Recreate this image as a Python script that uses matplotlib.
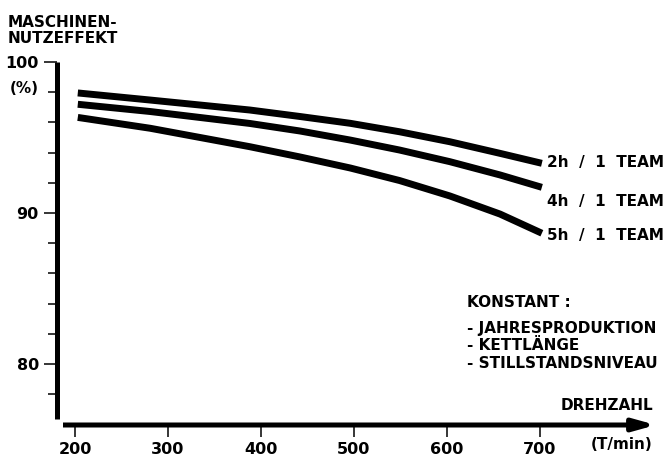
import matplotlib
matplotlib.use("Agg")
import matplotlib.pyplot as plt

# ---- data ----
drehzahl = [203, 281, 388, 442, 496, 549, 603, 657, 702]
nutz_2h = [97.95, 97.48, 96.82, 96.39, 95.94, 95.38, 94.72, 93.95, 93.29]
nutz_4h = [97.20, 96.72, 95.93, 95.43, 94.83, 94.17, 93.40, 92.52, 91.70]
nutz_5h = [96.33, 95.61, 94.39, 93.71, 92.98, 92.15, 91.13, 89.93, 88.66]
series_labels = ["2h  /  1  TEAM", "4h  /  1  TEAM", "5h  /  1  TEAM"]
x_ticks = [200, 300, 400, 500, 600, 700]
y_major = [80, 90, 100]
y_minor = [78, 82, 84, 86, 88, 92, 94, 96, 98]

W, H = 671, 457
plt.rcParams['font.family'] = ["DejaVu Sans"]
plt.rcParams['font.weight'] = 'bold'

fig = plt.figure(figsize=(W / 100, H / 100), dpi=100)
axl, axb = 56.5, 425
ax = fig.add_axes([axl / W, (H - axb) / H, (W - axl) / W, axb / H])
ax.set_facecolor('white')

# pixel scale helpers for layout
def xv(px):
    return 200 + (px - 75) / 0.93

def yv(py):
    return 100 - (py - 62) / 15.1

ax.set_xlim(xv(axl), xv(W))
ax.set_ylim(yv(axb), yv(0))

for y in [nutz_2h, nutz_4h, nutz_5h]:
    ax.plot(drehzahl, y, color='black', lw=5.0, solid_capstyle='butt',
            solid_joinstyle='round', clip_on=False)

# spines
for s in ['top', 'right', 'bottom']:
    ax.spines[s].set_visible(False)
ax.spines['left'].set_linewidth(3.6)
ax.spines['left'].set_bounds(yv(419), 100)
ax.spines['left'].set_capstyle('butt')

# x axis as arrow
ax.annotate('', xy=(xv(656), yv(axb)), xytext=(xv(63), yv(axb)),
            xycoords='data', textcoords='data', annotation_clip=False,
            arrowprops=dict(arrowstyle='-|>,head_length=13,head_width=3.6',
                            mutation_scale=1, lw=3.6, color='black',
                            shrinkA=0, shrinkB=0, capstyle='butt'))

ax.set_xticks(x_ticks)
ax.set_xticklabels([str(t) for t in x_ticks], fontsize=11.5, fontweight='bold')
ax.tick_params(axis='x', direction='out', length=8.6, width=1.1, pad=3.4)

ax.set_yticks(y_major)
ax.set_yticklabels([str(t) for t in y_major], fontsize=11.5, fontweight='bold')
ax.set_yticks(y_minor, minor=True)
ax.tick_params(axis='y', which='major', direction='out', length=9.7, width=1.1, pad=3.0)
ax.tick_params(axis='y', which='minor', direction='out', length=6.8, width=1.1)

def ftext(px, py, s, ha='left', va='baseline', size=11):
    fig.text(px / W, 1 - py / H, s, ha=ha, va=va, fontsize=size,
             fontweight='bold', color='black')

ftext(8, 26.7, "MASCHINEN-")
ftext(8, 43.3, "NUTZEFFEKT")
ftext(39, 93, "(%)", ha='right')
ftext(653, 410, "DREHZAHL", ha='right')
ftext(653, 449, "(T/min)", ha='right')

for py, lab in zip([167, 206, 240], series_labels):
    ftext(547, py, lab)

ftext(467, 307, "KONSTANT :")
ftext(467, 333, "- JAHRESPRODUKTION")
ftext(467, 350, "- KETTLÄNGE")
ftext(467, 368, "- STILLSTANDSNIVEAU")

fig.savefig("out.png", dpi=100, facecolor='white')
